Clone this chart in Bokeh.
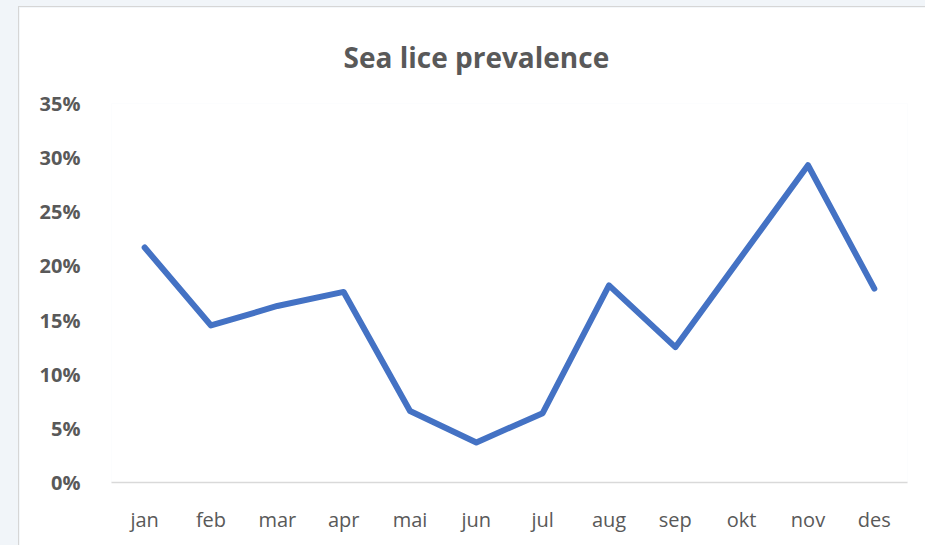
from bokeh.plotting import figure
from bokeh.layouts import column
from bokeh.models import Range1d, FixedTicker, NumeralTickFormatter
from bokeh.embed import file_html
from bokeh.resources import INLINE

months = ["jan", "feb", "mar", "apr", "mai", "jun", "jul", "aug", "sep", "okt", "nov", "des"]
prevalence = [0.217, 0.145, 0.163, 0.176, 0.066, 0.037, 0.064, 0.182, 0.125, 0.209, 0.293, 0.179]
y_ticks = [0.0, 0.05, 0.10, 0.15, 0.20, 0.25, 0.30, 0.35]

p = figure(
    x_range=months, y_range=Range1d(0, 0.35),
    width=907, height=539, margin=(6, 0, 0, 18),
    output_backend="svg", toolbar_location=None,
    min_border_left=92, min_border_right=19, min_border_top=96, min_border_bottom=64,
    title="Sea lice prevalence",
    styles={"border-left": "1px solid #d6d6d6", "border-top": "1px solid #d6d6d6"},
)
p.background_fill_color = "white"
p.border_fill_color = "white"
p.outline_line_color = None

p.title.align = "left"
p.title.text_font = "Open Sans"
p.title.text_font_size = "28px"
p.title.text_font_style = "bold"
p.title.text_color = "#595959"
p.title.standoff = 56
p.title.offset = 232

p.line(months, prevalence, line_color="#4472C4", line_width=6, line_join="round", line_cap="round")

p.xgrid.grid_line_color = None
p.ygrid.grid_line_color = None

p.yaxis.ticker = FixedTicker(ticks=y_ticks)
p.yaxis.formatter = NumeralTickFormatter(format="0%")
p.yaxis.axis_line_color = None
p.yaxis.major_tick_line_color = None
p.yaxis.minor_tick_line_color = None
p.yaxis.major_label_standoff = 25
p.yaxis.major_label_text_font = "Open Sans"
p.yaxis.major_label_text_font_size = "20px"
p.yaxis.major_label_text_font_style = "bold"
p.yaxis.major_label_text_color = "#595959"

p.xaxis.axis_line_color = "#d9d9d9"
p.xaxis.axis_line_width = 1.5
p.xaxis.major_tick_line_color = None
p.xaxis.minor_tick_line_color = None
p.xaxis.major_label_standoff = 17
p.xaxis.major_label_text_font = "Open Sans"
p.xaxis.major_label_text_font_size = "20px"
p.xaxis.major_label_text_color = "#595959"

layout = column(p, width=925, height=545, styles={"background-color": "#f1f5f9"})

open("out.html", "w").write(file_html(layout, INLINE))
